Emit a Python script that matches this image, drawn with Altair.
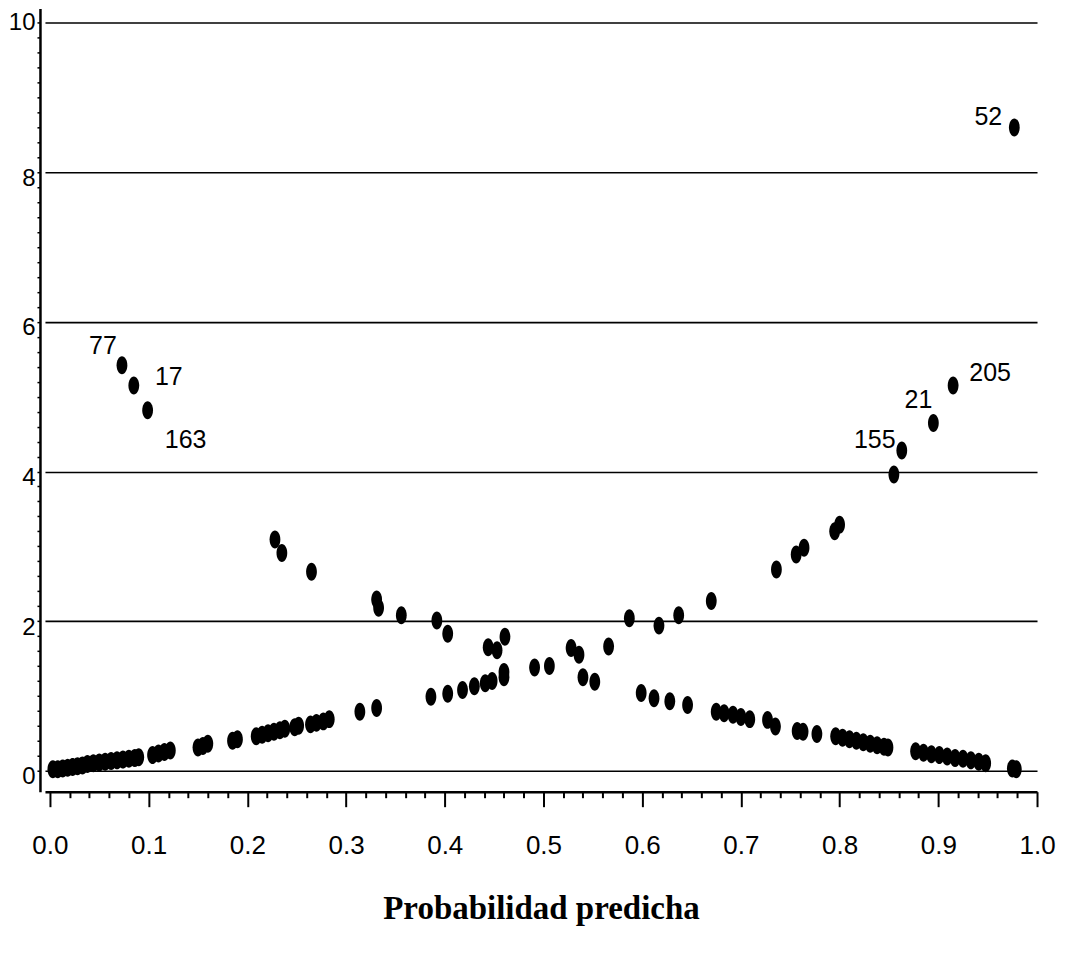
import altair as alt
import pandas as pd

# Rising branch (observations with y = 0)
rise_p = [0.003, 0.008, 0.013, 0.018, 0.023, 0.028, 0.033,
          0.038, 0.044, 0.050, 0.056, 0.062, 0.068, 0.074, 0.080, 0.086, 0.090,
          0.104, 0.110, 0.116, 0.122,
          0.150, 0.155, 0.160,
          0.185, 0.190,
          0.209, 0.215, 0.221, 0.227, 0.233, 0.238,
          0.248, 0.252,
          0.264, 0.270, 0.277, 0.283,
          0.314, 0.331,
          0.386, 0.403,
          0.418, 0.430, 0.441, 0.448,
          0.460, 0.460,
          0.491, 0.506,
          0.528, 0.536, 0.566, 0.587, 0.617, 0.637, 0.670,
          0.736, 0.756, 0.764, 0.795, 0.800,
          0.855, 0.863, 0.895, 0.915, 0.977]
rise_v = [0.02, 0.02, 0.03, 0.04, 0.05, 0.06, 0.07,
          0.09, 0.10, 0.11, 0.12, 0.13, 0.14, 0.15, 0.16, 0.17, 0.18,
          0.21, 0.23, 0.25, 0.27,
          0.31, 0.33, 0.36,
          0.40, 0.42,
          0.46, 0.48, 0.50, 0.52, 0.54, 0.56,
          0.58, 0.60,
          0.62, 0.64, 0.66, 0.69,
          0.79, 0.84,
          0.99, 1.03,
          1.08, 1.13, 1.17, 1.20,
          1.25, 1.32,
          1.38, 1.40,
          1.64, 1.55, 1.66, 2.04, 1.94, 2.08, 2.27,
          2.69, 2.89, 2.98, 3.20, 3.29,
          3.96, 4.28, 4.65, 5.15, 8.60]

# Falling branch (observations with y = 1)
fall_p = [0.073, 0.085, 0.099, 0.228, 0.235, 0.265, 0.331, 0.333, 0.356, 0.392,
          0.403, 0.444, 0.453, 0.461, 0.540, 0.552,
          0.599, 0.612, 0.628, 0.646,
          0.675, 0.683, 0.692, 0.700, 0.709, 0.727, 0.735,
          0.757, 0.763, 0.777, 0.796, 0.803, 0.810, 0.817, 0.824, 0.831, 0.838, 0.845, 0.849,
          0.877, 0.885, 0.893, 0.901, 0.909, 0.917, 0.925, 0.933, 0.941, 0.948,
          0.975, 0.979]
fall_v = [5.42, 5.15, 4.82, 3.09, 2.91, 2.66, 2.29, 2.18, 2.08, 2.01,
          1.83, 1.65, 1.61, 1.79, 1.25, 1.19,
          1.04, 0.97, 0.93, 0.88,
          0.79, 0.77, 0.75, 0.72, 0.69, 0.68, 0.59,
          0.53, 0.52, 0.49, 0.46, 0.44, 0.42, 0.40, 0.38, 0.36, 0.34, 0.32, 0.31,
          0.26, 0.24, 0.22, 0.21, 0.19, 0.17, 0.16, 0.14, 0.12, 0.10,
          0.03, 0.02]

# Case labels of the flagged observations: (branch, index in branch, label)
flagged = [("fall", 0, "77"), ("fall", 1, "17"), ("fall", 2, "163"),
           ("rise", 66, "52"), ("rise", 63, "155"), ("rise", 64, "21"), ("rise", 65, "205")]

rise_case = [""] * len(rise_p)
fall_case = [""] * len(fall_p)
for branch, idx, lab in flagged:
    (rise_case if branch == "rise" else fall_case)[idx] = lab

df = pd.DataFrame({
    "prob": rise_p + fall_p,
    "delta": rise_v + fall_v,
    "case": rise_case + fall_case,
})

x_ticks = [round(i * 0.02, 2) for i in range(51)]
y_ticks = [round(i * 0.2, 1) for i in range(51)]

is_x_major = "abs(datum.value*10 - round(datum.value*10)) < 1e-6"
is_y_major = "abs(datum.value/2 - round(datum.value/2)) < 1e-6"

label_font = "Liberation Sans Narrow, Liberation Sans, Arial"

x_enc = alt.X(
    "prob:Q",
    scale=alt.Scale(domain=[-0.005, 1.0], nice=False, zero=False),
    axis=alt.Axis(
        values=x_ticks,
        tickCount=len(x_ticks),
        grid=False,
        labelExpr=f"{is_x_major} ? format(datum.value, '.1f') : ''",
        labelOverlap=False,
        labelFlush=False,
        tickSize={"condition": {"test": is_x_major, "value": 15}, "value": 6},
        tickColor="black",
        tickWidth=2,
        domainColor="black",
        domainWidth=2.5,
        labelFont=label_font,
        labelFontSize=26,
        labelColor="black",
        labelPadding=26,
        title="Probabilidad predicha",
        titleFont="Liberation Serif",
        titleFontSize=33,
        titleFontWeight="bold",
        titleColor="black",
        titlePadding=34,
    ),
)

y_enc = alt.Y(
    "delta:Q",
    scale=alt.Scale(domain=[-0.28, 10.19], nice=False, zero=False),
    axis=alt.Axis(
        values=y_ticks,
        tickCount=len(y_ticks),
        offset=5,
        grid=True,
        gridColor="black",
        gridWidth=1.6,
        gridOpacity={"condition": {"test": is_y_major, "value": 1}, "value": 0},
        labelExpr=f"{is_y_major} ? format(datum.value, '.0f') : ''",
        labelOverlap=False,
        labelFlush=False,
        tickSize=3,
        tickColor="black",
        tickWidth=1.5,
        domainColor="black",
        domainWidth=2.5,
        labelFont=label_font,
        labelFontSize=24,
        labelColor="black",
        labelPadding=2,
        labelOffset={"condition": {"test": "datum.value > 9", "value": 0}, "value": 6},
        title=None,
    ),
)

ellipse = ("M0,-1 C0.331,-1 0.6,-0.552 0.6,0 C0.6,0.552 0.331,1 0,1 "
           "C-0.331,1 -0.6,0.552 -0.6,0 C-0.6,-0.552 -0.331,-1 0,-1 Z")

base = alt.Chart(df).encode(x=x_enc, y=y_enc)

points = base.mark_point(
    shape=ellipse, filled=True, color="black", opacity=1, size=324, strokeWidth=0
)

label_offsets = {
    "77": (-19, -19),
    "17": (35, -8),
    "163": (38, 30),
    "52": (-26, -10),
    "155": (-27, -11),
    "21": (-15, -23),
    "205": (37, -12),
}

text_layers = []
for lab, (dx, dy) in label_offsets.items():
    text_layers.append(
        base.transform_filter(alt.datum.case == lab).mark_text(
            dx=dx, dy=dy, align="center", baseline="middle",
            font=label_font, fontSize=25, color="black"
        ).encode(text="case:N")
    )

chart = alt.layer(points, *text_layers).properties(
    width=993,
    height=784,
    autosize=alt.AutoSizeParams(type="none"),
    padding={"left": 37, "top": 0, "right": 22, "bottom": 150},
    background="white",
).configure_view(stroke=None)

chart.save("out.html", embed_options={"renderer": "svg", "actions": False})
